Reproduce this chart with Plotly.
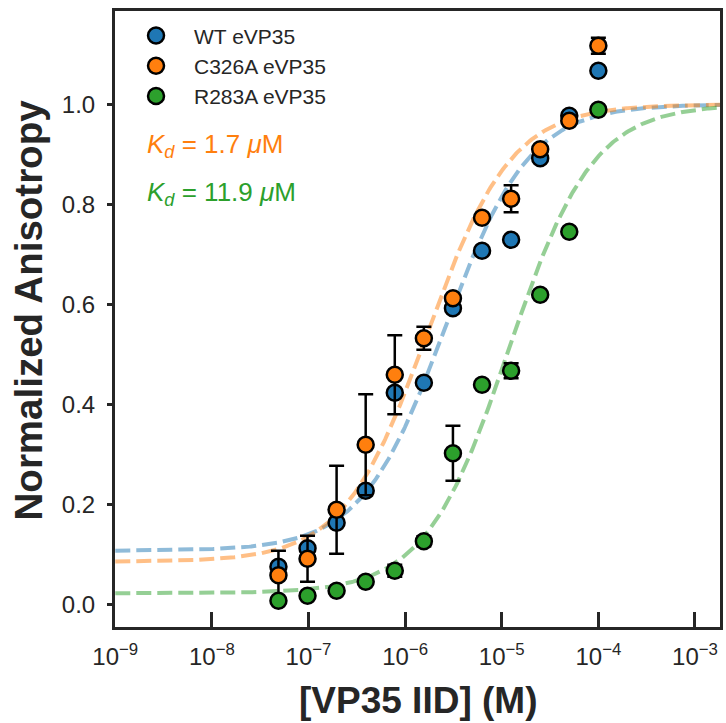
import numpy as np
import plotly.graph_objects as go

# Titrant concentrations (M), two-fold dilution series
conc = [4.883e-8, 9.766e-8, 1.953e-7, 3.906e-7, 7.813e-7, 1.563e-6,
        3.125e-6, 6.25e-6, 1.25e-5, 2.5e-5, 5e-5, 1e-4]

# Normalized anisotropy per construct
wt = [0.075, 0.112, 0.163, 0.227, 0.423, 0.443, 0.592, 0.707, 0.729, 0.892, 0.977, 1.067]
c326a = [0.058, 0.091, 0.189, 0.319, 0.459, 0.532, 0.612, 0.773, 0.811, 0.910, 0.967, 1.117]
c326a_err = [0.049, 0.046, 0.088, 0.101, 0.079, 0.023, 0.0, 0.0, 0.027, 0.0, 0.0, 0.016]
r283a = [0.007, 0.017, 0.027, 0.045, 0.067, 0.126, 0.302, 0.439, 0.467, 0.619, 0.745, 0.989]
r283a_err = [0.0, 0.0, 0.0, 0.0, 0.012, 0.010, 0.055, 0.0, 0.015, 0.0, 0.0, 0.0]

# Single-site binding fit parameters (Kd in M, baseline anisotropy)
kd_wt, base_wt = 2.6e-6, 0.107
kd_c326a, base_c326a = 1.7e-6, 0.085
kd_r283a, base_r283a = 11.9e-6, 0.022

labels = ["WT eVP35", "C326A eVP35", "R283A eVP35"]
colors = ["#1f77b4", "#ff7f0e", "#2ca02c"]
fit_colors = ["rgba(31,119,180,0.5)", "rgba(255,127,14,0.5)", "rgba(44,160,44,0.5)"]

x_ticks = [1e-9, 1e-8, 1e-7, 1e-6, 1e-5, 1e-4, 1e-3]
x_ticktext = ["10<sup>\u22129</sup>", "10<sup>\u22128</sup>", "10<sup>\u22127</sup>",
              "10<sup>\u22126</sup>", "10<sup>\u22125</sup>", "10<sup>\u22124</sup>",
              "10<sup>\u22123</sup>"]
x_minor = [m * 10.0 ** e for e in range(-9, -2) for m in range(2, 10)]
y_ticks = [0.0, 0.2, 0.4, 0.6, 0.8, 1.0]
y_ticktext = ["0.0", "0.2", "0.4", "0.6", "0.8", "1.0"]


def binding(x, kd, base):
    return base + (1.0 - base) * x / (kd + x)


x_fit = np.logspace(-9, -2.7, 400)
fits = [(kd_wt, base_wt), (kd_c326a, base_c326a), (kd_r283a, base_r283a)]

fig = go.Figure()

for (kd, base), fc in zip(fits, fit_colors):
    fig.add_trace(go.Scatter(
        x=x_fit, y=binding(x_fit, kd, base), mode="lines",
        line=dict(color=fc, width=4, dash="15px,6px"),
        showlegend=False, hoverinfo="skip"))

data = [(wt, None), (c326a, c326a_err), (r283a, r283a_err)]
for (vals, err), name, col in zip(data, labels, colors):
    kw = {}
    if err is not None:
        kw["error_y"] = dict(type="data", array=err, visible=True,
                             color="black", thickness=2.5, width=7.5)
    fig.add_trace(go.Scatter(
        x=conc, y=vals, mode="markers", name=name,
        marker=dict(size=16, color=col, line=dict(color="black", width=2.5)),
        **kw))

ink = "#262626"
font_family = "Liberation Sans, Arial, sans-serif"
W, H = 726, 723
ml, mr, mt, mb = 115, 3, 11, 96
x_range = [-9.003, -2.741]
y_range = [-0.0454, 1.1866]

fig.update_layout(
    width=W, height=H,
    margin=dict(l=ml, r=mr, t=mt, b=mb, pad=0),
    paper_bgcolor="white", plot_bgcolor="white",
    font=dict(family=font_family, color=ink),
    xaxis=dict(
        type="log", range=x_range,
        tickvals=x_ticks, ticktext=x_ticktext,
        ticks="inside", ticklen=15, tickwidth=2.5, tickcolor=ink,
        showline=True, linewidth=3, linecolor=ink, mirror=True,
        showgrid=False, zeroline=False,
        tickfont=dict(size=24, color=ink), ticklabelstandoff=6),
    xaxis2=dict(
        type="log", range=x_range, overlaying="x", anchor="y",
        tickvals=x_minor, ticks="inside", ticklen=7, tickwidth=2, tickcolor=ink,
        showticklabels=False, showline=False, showgrid=False, zeroline=False),
    yaxis=dict(
        range=y_range,
        tickvals=y_ticks, ticktext=y_ticktext,
        ticks="outside", ticklen=5, tickwidth=2.5, tickcolor=ink,
        showline=True, linewidth=3, linecolor=ink, mirror=True,
        showgrid=False, zeroline=False,
        tickfont=dict(size=24, color=ink), ticklabelstandoff=7),
    yaxis2=dict(
        range=y_range, overlaying="y", anchor="x",
        tickvals=y_ticks, ticks="inside", ticklen=5, tickwidth=2.5, tickcolor=ink,
        showticklabels=False, showline=False, showgrid=False, zeroline=False),
    legend=dict(
        x=0.005, y=0.993, xanchor="left", yanchor="top",
        font=dict(size=21, color=ink), itemwidth=66,
        bgcolor="rgba(0,0,0,0)", borderwidth=0),
    showlegend=True,
)

pw = W - ml - mr
ph = H - mt - mb


def px_x(p):
    return (p - ml) / pw


def px_y(p):
    return (H - mb - p) / ph


fig.add_annotation(
    text="<b>[VP35 IID] (M)</b>", xref="paper", yref="paper",
    x=0.5, y=px_y(700), xanchor="center", yanchor="middle",
    showarrow=False, font=dict(size=37, color=ink))
fig.add_annotation(
    text="<b>Normalized Anisotropy</b>", xref="paper", yref="paper",
    x=px_x(28), y=px_y(310), xanchor="center", yanchor="middle",
    textangle=-90, showarrow=False, font=dict(size=38.5, color=ink))

kd_labels = [("<i>K</i><sub><i>d</i></sub> = 1.7 <i>\u03bc</i>M", colors[1], 145.5),
             ("<i>K</i><sub><i>d</i></sub> = 11.9 <i>\u03bc</i>M", colors[2], 194)]
for txt, col, yc in kd_labels:
    fig.add_annotation(
        text=txt, xref="paper", yref="paper", x=px_x(145), y=px_y(yc),
        xanchor="left", yanchor="middle", showarrow=False,
        font=dict(size=26, color=col))

fig.write_html("out.html")
